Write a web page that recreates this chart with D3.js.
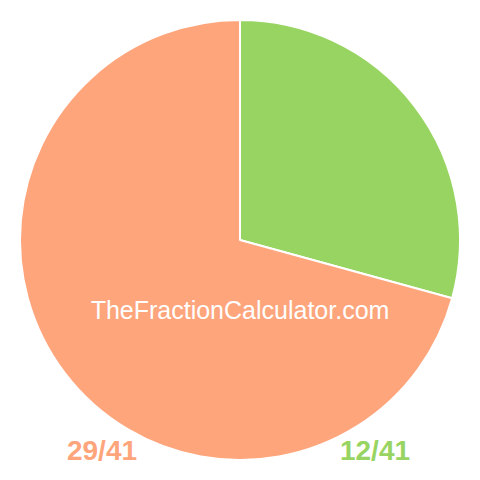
<!DOCTYPE html>
<html lang="en">
<head>
    <meta charset="UTF-8">
    <title>Fraction Pie</title>
    <script src="https://d3js.org/d3.v7.min.js"></script>
    <style>
        body { margin: 0; background: #fff; }
    </style>
</head>
<body>
    <div id="chart"></div>
    <script>
        // slices, drawn clockwise from 12 o'clock
        var labels = ["12/41", "29/41"];
        var values = [12, 29];
        var colors = ["#98d462", "#fea57c"];

        var width = 480, height = 480;
        var radius = 220;

        var svg = d3.select("#chart")
                    .append("svg")
                    .attr("width", width)
                    .attr("height", height);

        var g = svg.append("g")
                   .attr("transform", "translate(" + width / 2 + "," + height / 2 + ")");

        var pie = d3.pie().sort(null).value(d => d);
        var arc = d3.arc().innerRadius(0).outerRadius(radius);

        g.selectAll("path")
            .data(pie(values))
            .enter()
            .append("path")
            .attr("d", arc)
            .attr("fill", (d, i) => colors[i])
            .attr("stroke", "#fff")
            .attr("stroke-width", 2)
            .attr("stroke-linejoin", "round");

        // watermark
        g.append("text")
            .attr("x", 0)
            .attr("y", 79)
            .attr("text-anchor", "middle")
            .style("font-family", "Liberation Sans, Arial, sans-serif")
            .style("font-size", "25px")
            .attr("fill", "#fff")
            .text("TheFractionCalculator.com");

        // bottom labels
        var labelX = [375, 102];
        svg.selectAll(".lbl")
            .data(labels)
            .enter()
            .append("text")
            .attr("class", "lbl")
            .attr("x", (d, i) => labelX[i])
            .attr("y", 460)
            .attr("text-anchor", "middle")
            .style("font-family", "Liberation Sans, Arial, sans-serif")
            .style("font-weight", "bold")
            .style("font-size", "28px")
            .attr("fill", (d, i) => colors[i])
            .text(d => d);
    </script>
</body>
</html>
